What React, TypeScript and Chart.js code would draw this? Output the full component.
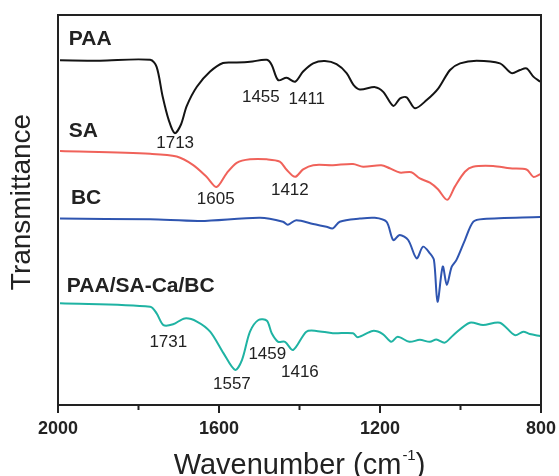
import React, { useEffect, useRef } from 'react';
import { Chart, registerables } from 'chart.js';

Chart.register(...registerables);

// ---- axis ----
const xMin = 800;
const xMax = 2000;
const xMajorTicks = [2000, 1600, 1200, 800];
const xMinorTicks = [1800, 1400, 1000];
const xTitle = 'Wavenumber (cm';
const xTitleSup = '-1';
const yTitle = 'Transmittance';

// ---- spectra (wavenumber, transmittance a.u., offset) ----
const paaX = [1995, 1896, 1771, 1755, 1740, 1725, 1710, 1695, 1680, 1655, 1622, 1590, 1556, 1523, 1481, 1469, 1453, 1432, 1411, 1391, 1366, 1337, 1308, 1283, 1266, 1250, 1212, 1192, 1167, 1150, 1134, 1113, 1084, 1055, 1026, 1001, 960, 902, 873, 852, 836, 819, 802];
const paaY = [88.4, 88.3, 88.5, 86.7, 79.1, 73.1, 69.7, 71.8, 76.7, 81.6, 85.5, 87.7, 87.8, 88.0, 88.5, 87.2, 83.3, 83.9, 82.9, 85.5, 87.6, 88.2, 87.4, 85.1, 82.1, 80.9, 81.5, 80.3, 76.7, 78.6, 78.9, 76.1, 78.2, 81.2, 85.9, 87.6, 88.3, 87.6, 85.1, 85.9, 86.3, 84.2, 82.9];

const saX = [1995, 1771, 1705, 1664, 1631, 1606, 1581, 1556, 1523, 1481, 1449, 1432, 1411, 1391, 1366, 1317, 1267, 1242, 1197, 1176, 1151, 1122, 1101, 1076, 1056, 1033, 1014, 989, 969, 919, 877, 836, 819, 802];
const saY = [65.1, 64.4, 63.7, 61.5, 58.5, 55.9, 59.4, 62.1, 63.0, 63.0, 62.4, 60.3, 58.5, 60.4, 61.5, 61.5, 61.8, 61.1, 61.5, 60.7, 59.6, 59.7, 58.1, 57.0, 55.3, 52.6, 56.0, 59.8, 61.1, 61.3, 60.7, 60.4, 58.5, 59.2];

const bcX = [1995, 1771, 1647, 1498, 1441, 1429, 1408, 1366, 1333, 1317, 1300, 1250, 1213, 1184, 1167, 1151, 1130, 1109, 1093, 1076, 1066, 1057, 1044, 1034, 1022, 1010, 989, 968, 943, 802];
const bcY = [47.8, 47.6, 47.2, 48.0, 47.0, 46.2, 47.4, 46.4, 45.7, 45.3, 47.0, 47.8, 48.0, 47.0, 42.3, 43.6, 42.3, 37.6, 40.6, 38.9, 37.2, 26.5, 35.5, 30.8, 35.4, 37.2, 42.3, 47.0, 47.7, 48.2];

const mixX = [1995, 1771, 1755, 1738, 1714, 1685, 1655, 1622, 1589, 1560, 1543, 1523, 1502, 1481, 1469, 1453, 1436, 1416, 1383, 1358, 1317, 1267, 1255, 1218, 1193, 1172, 1156, 1127, 1101, 1076, 1060, 1039, 1018, 977, 944, 902, 865, 844, 828, 802];
const mixY = [26.1, 25.2, 23.5, 20.5, 20.7, 22.2, 21.4, 18.8, 13.3, 9.0, 11.5, 18.8, 21.8, 21.6, 18.4, 16.2, 16.2, 14.1, 18.8, 19.0, 18.4, 18.4, 17.4, 19.0, 18.2, 16.2, 17.5, 16.2, 16.7, 16.2, 16.8, 16.0, 17.9, 21.1, 20.5, 21.1, 17.9, 18.8, 18.2, 17.7];

const seriesNames = ['PAA', 'SA', 'BC', 'PAA/SA-Ca/BC'];
const seriesNameX = [1973, 1973, 1968, 1978];
const seriesNameY = [93.8, 70.3, 53.1, 30.5];

// peak annotations
const peakText = ['1713', '1455', '1411', '1605', '1412', '1731', '1557', '1459', '1416'];
const peakX = [1709, 1496, 1382, 1608, 1424, 1726, 1568, 1480, 1399];
const peakY = [67.2, 79.0, 78.5, 52.8, 55.1, 16.2, 5.4, 13.0, 8.5];

const colors = ['#141414', '#f0625a', '#2f55b0', '#1fb3a3'];

const zip = (xs: number[], ys: number[]) => xs.map((x, i) => ({ x, y: ys[i] }));

const FONT = '"Liberation Sans", Arial, Helvetica, sans-serif';

const overlay = {
  id: 'overlay',
  afterDatasetsDraw(chart: any) {
    const { ctx, chartArea: a, scales } = chart;
    const xs = scales.x;
    const ys = scales.y;
    ctx.save();
    // frame
    ctx.strokeStyle = '#222';
    ctx.lineWidth = 2;
    ctx.strokeRect(a.left, a.top, a.right - a.left, a.bottom - a.top);
    // tick marks
    ctx.beginPath();
    xMajorTicks.forEach((v) => {
      const px = xs.getPixelForValue(v);
      ctx.moveTo(px, a.bottom);
      ctx.lineTo(px, a.bottom + 8);
    });
    xMinorTicks.forEach((v) => {
      const px = xs.getPixelForValue(v);
      ctx.moveTo(px, a.bottom);
      ctx.lineTo(px, a.bottom + 5);
    });
    ctx.stroke();

    ctx.fillStyle = '#222';
    // series names
    ctx.font = `bold 21px ${FONT}`;
    ctx.textAlign = 'left';
    ctx.textBaseline = 'middle';
    seriesNames.forEach((n, i) => {
      ctx.fillText(n, xs.getPixelForValue(seriesNameX[i]), ys.getPixelForValue(seriesNameY[i]));
    });
    // peaks
    ctx.font = `17px ${FONT}`;
    ctx.textAlign = 'center';
    peakText.forEach((t, i) => {
      ctx.fillText(t, xs.getPixelForValue(peakX[i]), ys.getPixelForValue(peakY[i]));
    });
    // x title
    const big = `29px ${FONT}`;
    const small = `15px ${FONT}`;
    ctx.font = big;
    const w1 = ctx.measureText(xTitle).width;
    const w3 = ctx.measureText(')').width;
    ctx.font = small;
    const w2 = ctx.measureText(xTitleSup).width;
    const total = w1 + w2 + w3 + 1;
    const cx = (a.left + a.right) / 2;
    let sx = cx - total / 2;
    const base = 474;
    ctx.textAlign = 'left';
    ctx.textBaseline = 'alphabetic';
    ctx.font = big;
    ctx.fillText(xTitle, sx, base);
    sx += w1 + 1;
    ctx.font = small;
    ctx.fillText(xTitleSup, sx, base - 14);
    sx += w2;
    ctx.font = big;
    ctx.fillText(')', sx, base);
    // y title
    ctx.translate(22, 202);
    ctx.rotate(-Math.PI / 2);
    ctx.font = `28px ${FONT}`;
    ctx.textAlign = 'center';
    ctx.textBaseline = 'middle';
    ctx.fillText(yTitle, 0, 0);
    ctx.restore();
  },
};

export default function App() {
  const ref = useRef<HTMLCanvasElement | null>(null);
  useEffect(() => {
    document.body.style.margin = '0';
    const canvas = ref.current!;
    const series = [zip(paaX, paaY), zip(saX, saY), zip(bcX, bcY), zip(mixX, mixY)];
    const chart = new Chart(canvas, {
      type: 'line',
      data: {
        datasets: series.map((d, i) => ({
          label: seriesNames[i],
          data: d,
          borderColor: colors[i],
          borderWidth: 2,
          pointRadius: 0,
          tension: 0.3,
          fill: false,
        })),
      },
      options: {
        responsive: false,
        animation: false,
        layout: { padding: { top: 15, right: 18, left: 0, bottom: 0 } },
        plugins: { legend: { display: false }, tooltip: { enabled: false } },
        scales: {
          x: {
            type: 'linear',
            reverse: true,
            min: xMin,
            max: xMax,
            grid: { display: false, drawTicks: false },
            border: { display: false },
            ticks: {
              stepSize: 200,
              autoSkip: false,
              maxRotation: 0,
              padding: 13,
              color: '#222',
              font: { family: FONT, size: 18, weight: 'bold' },
              callback: (v: any) => (xMajorTicks.includes(Number(v)) ? String(v) : ''),
            },
            afterFit: (s: any) => {
              s.height = 71;
              s.paddingLeft = 0;
              s.paddingRight = 0;
            },
          },
          y: {
            min: 0,
            max: 100,
            grid: { display: false, drawTicks: false },
            border: { display: false },
            ticks: { display: false },
            afterFit: (s: any) => {
              s.width = 58;
              s.paddingTop = 0;
              s.paddingBottom = 0;
            },
          },
        },
      },
      plugins: [overlay],
    } as any);
    return () => chart.destroy();
  }, []);
  return <canvas ref={ref} width={559} height={476} style={{ display: 'block' }} />;
}
